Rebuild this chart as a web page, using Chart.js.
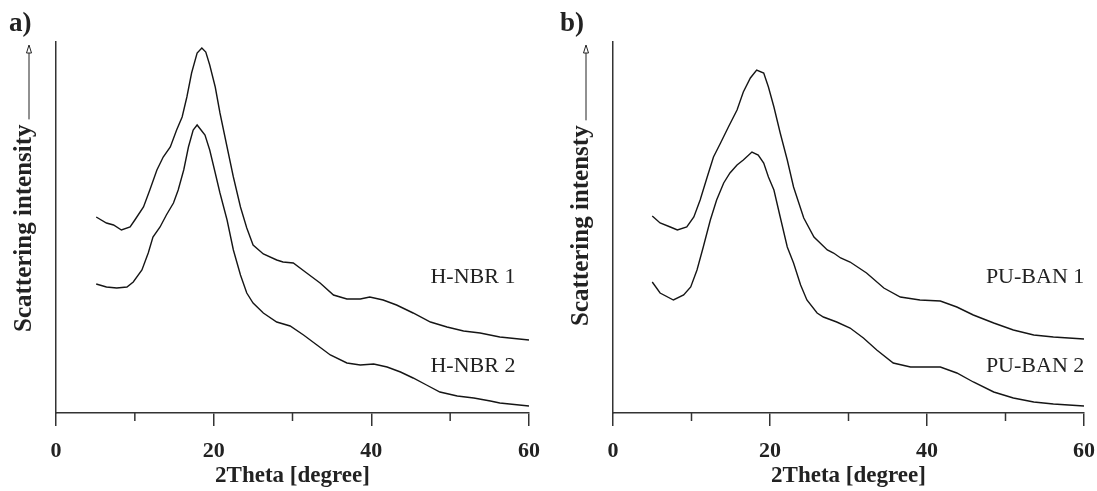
<!DOCTYPE html>
<html>
<head>
<meta charset="utf-8">
<script src="https://cdn.jsdelivr.net/npm/chart.js@4.4.0/dist/chart.umd.min.js"></script>
<style>
  body { margin: 0; background: #fff; }
  #wrap { position: relative; width: 1097px; height: 491px; overflow: hidden; background: #fff; }
  .panel { position: absolute; top: 0; height: 491px; }
</style>
</head>
<body>
<div id="wrap">
  <div class="panel" style="left:0;width:548px"><canvas id="chartA"></canvas></div>
  <div class="panel" style="left:548px;width:549px"><canvas id="chartB"></canvas></div>
</div>
<script>
// Values: 2Theta in degree, intensity in arbitrary units
// a) H-NBR 1
const thetaA1 = [5.1, 6.4, 7.3, 8.3, 9.4, 10.0, 11.1, 11.9, 12.8, 13.6, 14.5, 15.3, 16.0, 16.6, 17.2, 17.9, 18.5, 19.0, 19.5, 20.2, 20.8, 21.7, 22.5, 23.4, 24.2, 25.0, 26.3, 28.0, 28.8, 30.1, 31.8, 33.5, 35.2, 36.9, 38.6, 39.8, 41.5, 43.2, 45.3, 47.5, 49.6, 51.7, 53.8, 56.3, 60.0];
const intensityA1 = [196, 190, 188, 183, 186, 193, 206, 223, 243, 256, 266, 283, 296, 316, 340, 360, 365, 361, 348, 326, 300, 266, 236, 206, 185, 168, 159, 153, 151, 150, 140, 130, 118, 114, 114, 116, 113, 108, 100, 91, 86, 82, 80, 76, 73];
// a) H-NBR 2
const thetaA2 = [5.1, 6.4, 7.7, 9.0, 9.8, 10.9, 11.7, 12.3, 13.2, 14.0, 14.9, 15.5, 16.2, 16.8, 17.4, 17.9, 18.4, 18.9, 19.5, 20.2, 20.8, 21.7, 22.5, 23.4, 24.2, 25.0, 26.3, 28.0, 29.7, 31.4, 33.1, 34.8, 36.9, 38.6, 40.3, 42.0, 43.7, 45.3, 47.0, 48.7, 50.9, 53.0, 55.1, 56.3, 60.0];
const intensityA2 = [129, 126, 125, 126, 131, 143, 160, 176, 186, 198, 210, 223, 243, 266, 283, 288, 283, 278, 263, 240, 220, 193, 163, 138, 120, 110, 100, 91, 87, 78, 68, 58, 50, 48, 49, 46, 41, 35, 28, 21, 17, 15, 12, 10, 7];
// b) PU-BAN 1
const thetaB1 = [5.0, 6.0, 7.3, 8.2, 9.4, 10.3, 11.1, 12.0, 12.8, 13.7, 14.7, 15.8, 16.6, 17.5, 18.3, 19.2, 19.8, 20.5, 21.3, 22.2, 23.0, 24.3, 25.6, 27.3, 28.1, 29.0, 30.2, 32.3, 34.5, 36.6, 39.1, 41.7, 43.8, 45.9, 48.5, 51.0, 53.6, 56.1, 60.0];
const intensityB1 = [197, 190, 186, 183, 186, 196, 213, 236, 256, 270, 286, 303, 321, 335, 343, 340, 326, 306, 280, 253, 226, 195, 176, 163, 160, 155, 151, 140, 125, 116, 113, 112, 106, 98, 90, 83, 78, 76, 74];
// b) PU-BAN 2
const thetaB2 = [5.0, 6.0, 7.7, 9.0, 9.9, 10.7, 11.5, 12.4, 13.2, 14.1, 14.9, 15.8, 16.6, 17.7, 18.5, 19.2, 19.8, 20.5, 21.3, 22.2, 23.0, 23.9, 24.7, 26.0, 26.8, 28.5, 30.2, 31.9, 33.6, 35.7, 37.9, 40.0, 41.7, 43.8, 45.9, 48.5, 51.0, 53.6, 56.1, 60.0];
const intensityB2 = [131, 120, 113, 118, 126, 143, 166, 193, 213, 230, 240, 248, 253, 261, 258, 250, 236, 223, 196, 166, 150, 128, 113, 100, 96, 91, 85, 75, 63, 50, 46, 46, 46, 40, 31, 21, 15, 11, 9, 7];

const tickLabels = [0, 20, 40, 60];
const minorTicks = [10, 30, 50];
const seriesLabelsA = ["H-NBR 1", "H-NBR 2"];
const seriesLabelsB = ["PU-BAN 1", "PU-BAN 2"];
// where the curve names sit (2Theta, intensity of the text baseline)
const labelTheta = 47.5;
const labelIntensity = [130, 41];

const serif = "'Liberation Serif', 'Times New Roman', serif";
const ink = "#222";

// things Chart.js has no option for: short minor ticks, arrowed y title, curve names, panel letter
const decorPlugin = {
  id: "decor",
  afterDraw(chart, args, opts) {
    const ctx = chart.ctx;
    const xs = chart.scales.x;
    const ys = chart.scales.y;
    const area = chart.chartArea;
    ctx.save();
    ctx.strokeStyle = "#333";
    ctx.lineWidth = 1.5;
    minorTicks.forEach((v) => {
      const px = xs.getPixelForValue(v);
      ctx.beginPath();
      ctx.moveTo(px, area.bottom);
      ctx.lineTo(px, area.bottom + 8);
      ctx.stroke();
    });

    // rotated y title with the arrow after it
    ctx.fillStyle = ink;
    ctx.font = "bold 25px " + serif;
    const w = ctx.measureText(opts.yTitle).width;
    const bx = area.left - 25;
    ctx.save();
    ctx.translate(bx, opts.titleStart);
    ctx.rotate(-Math.PI / 2);
    ctx.textAlign = "left";
    ctx.textBaseline = "alphabetic";
    ctx.fillText(opts.yTitle, 0, 0);
    ctx.restore();

    const ax = bx - 2;
    const tip = area.top + 3;
    ctx.lineWidth = 1;
    ctx.strokeStyle = ink;
    ctx.beginPath();
    ctx.moveTo(ax, opts.titleStart - w - 5);
    ctx.lineTo(ax, tip + 8);
    ctx.stroke();
    ctx.beginPath();
    ctx.moveTo(ax, tip);
    ctx.lineTo(ax - 2.5, tip + 8);
    ctx.lineTo(ax + 2.5, tip + 8);
    ctx.closePath();
    ctx.stroke();

    // curve names
    ctx.font = "22px " + serif;
    ctx.textAlign = "left";
    opts.names.forEach((name, i) => {
      ctx.fillText(name, xs.getPixelForValue(labelTheta), ys.getPixelForValue(labelIntensity[i]));
    });

    // panel letter
    ctx.font = "bold 27px " + serif;
    ctx.fillText(opts.panel, opts.panelX, 31);
    ctx.restore();
  },
};

function makeChart(id, curves, names, panel, yTitle, extra) {
  const datasets = curves.map(([tx, ty]) => ({
    data: tx.map((t, i) => ({ x: t, y: ty[i] })),
    borderColor: "#151515",
    borderWidth: 1.4,
    pointRadius: 0,
    tension: 0,
    fill: false,
  }));
  return new Chart(document.getElementById(id), {
    type: "line",
    data: { datasets: datasets },
    plugins: [decorPlugin],
    options: {
      responsive: true,
      maintainAspectRatio: false,
      animation: false,
      layout: { padding: { left: 0, top: 42, right: extra.padRight, bottom: 0 } },
      plugins: {
        legend: { display: false },
        tooltip: { enabled: false },
        decor: {
          yTitle: yTitle,
          titleStart: extra.titleStart,
          names: names,
          panel: panel,
          panelX: extra.panelX,
        },
      },
      scales: {
        x: {
          type: "linear",
          min: 0,
          max: 60,
          afterBuildTicks: (s) => {
            s.ticks = tickLabels.map((v) => ({ value: v }));
          },
          afterFit: (s) => {
            s.height = 78;
            s.paddingLeft = 0;
            s.paddingRight = 0;
          },
          ticks: {
            autoSkip: false,
            maxRotation: 0,
            padding: 12,
            color: ink,
            font: { family: serif, size: 22, weight: "bold" },
          },
          grid: {
            drawOnChartArea: false,
            tickLength: 13,
            color: "#333",
            lineWidth: 1.5,
          },
          border: { display: true, color: "#333", width: 1.5 },
          title: {
            display: true,
            text: "2Theta [degree]",
            color: ink,
            font: { family: serif, size: 23, weight: "bold" },
            padding: { top: 0, bottom: 1 },
          },
        },
        y: {
          min: 0,
          max: 371,
          afterFit: (s) => {
            s.width = extra.axisLeft;
          },
          ticks: { display: false },
          grid: { display: false },
          border: { display: true, color: "#333", width: 1.5 },
        },
      },
    },
  });
}

makeChart("chartA", [[thetaA1, intensityA1], [thetaA2, intensityA2]], seriesLabelsA, "a)", "Scattering intensity",
  { axisLeft: 56, padRight: 19, titleStart: 332, panelX: 9 });
makeChart("chartB", [[thetaB1, intensityB1], [thetaB2, intensityB2]], seriesLabelsB, "b)", "Scattering intensty",
  { axisLeft: 65, padRight: 13, titleStart: 326, panelX: 12 });
</script>
</body>
</html>
